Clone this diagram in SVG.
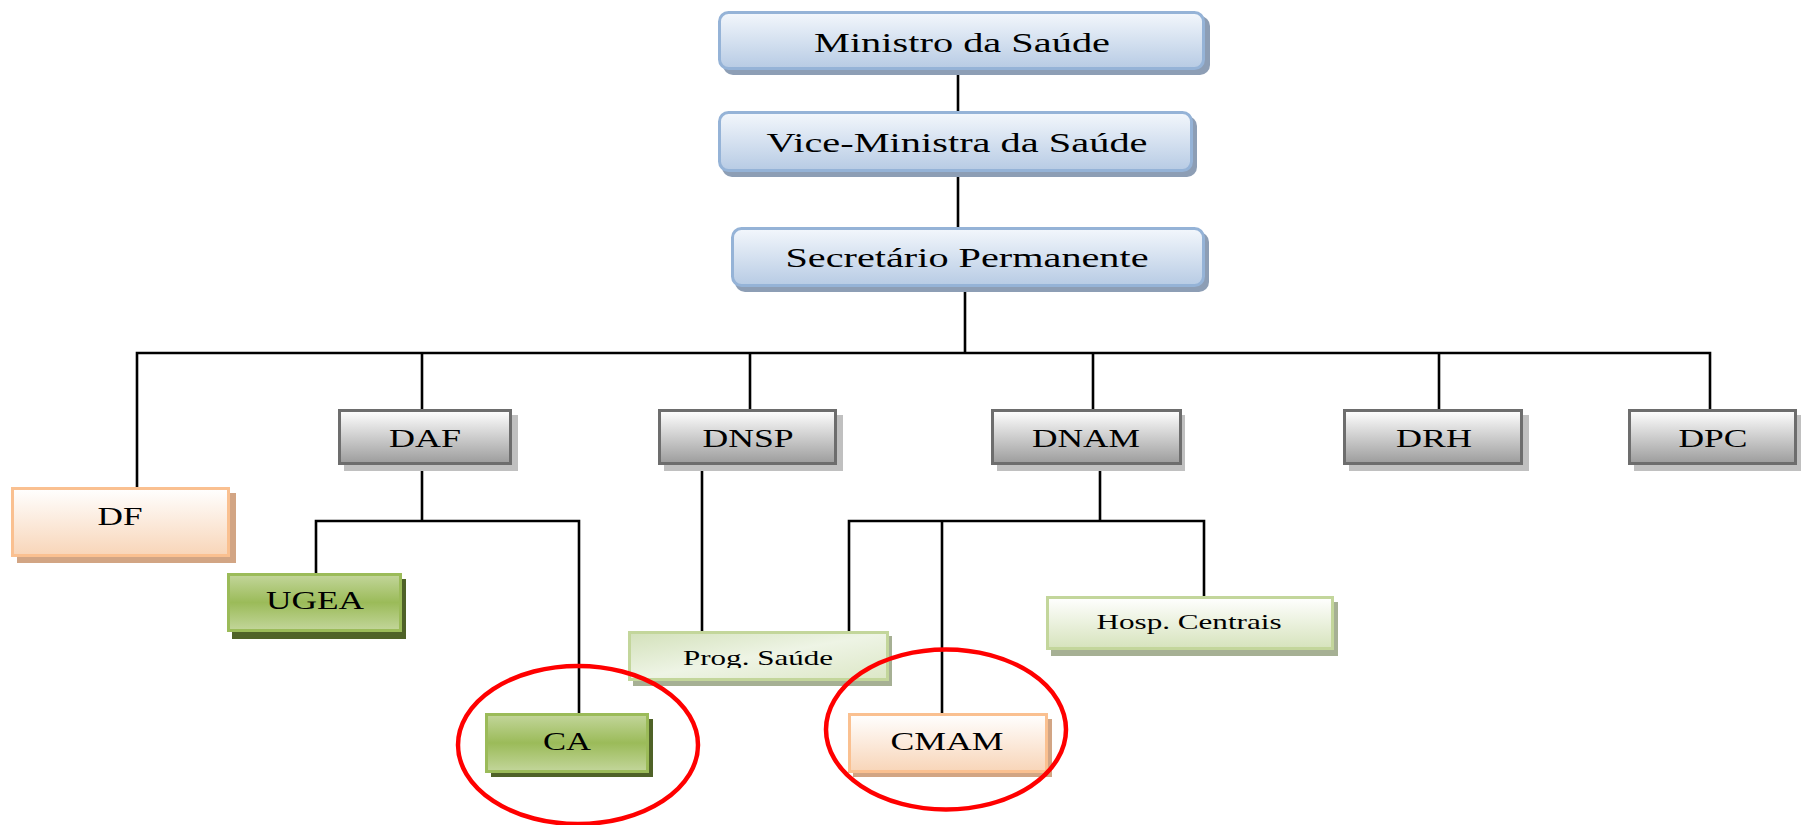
<svg xmlns="http://www.w3.org/2000/svg" width="1802" height="825" viewBox="0 0 1802 825">
<style>
.lbl{font-family:"Liberation Serif","Times New Roman",serif;fill:#000;text-anchor:middle}
.big{font-size:28px}
.mid{font-size:26px}
.sm{font-size:22px}
.conn{stroke:#000;stroke-width:2.6;fill:none}
.blue{fill:url(#gBlue);stroke:#95B3D7;stroke-width:3}
.gray{fill:url(#gGray);stroke:#6D6D6D;stroke-width:3}
.orange{fill:url(#gOrange);stroke:#FAC090;stroke-width:3}
.green{fill:url(#gGreen);stroke:#9BBB59;stroke-width:3}
.lgreen{fill:url(#gLGreen);stroke:#C3D69B;stroke-width:3}
.pgreen{fill:url(#gPGreen);stroke:#C3D69B;stroke-width:3}
.shBlue{fill:#8D9EB5}
.shGray{fill:#C0C0C0}
.shOrange{fill:#D2A584}
.shGreen{fill:#4F6228}
.shLGreen{fill:#A6B094}
.ring{fill:none;stroke:#FF0000;stroke-width:4.5}
</style>
<defs>
<linearGradient id="gBlue" x1="0" y1="0" x2="0" y2="1">
<stop offset="0" stop-color="#F3F7FC"/><stop offset="1" stop-color="#B7CBE4"/>
</linearGradient>
<linearGradient id="gGray" x1="0" y1="0" x2="0" y2="1">
<stop offset="0" stop-color="#FFFFFF"/><stop offset="1" stop-color="#9C9C9C"/>
</linearGradient>
<linearGradient id="gOrange" x1="0" y1="0" x2="0" y2="1">
<stop offset="0" stop-color="#FFFFFF"/><stop offset="1" stop-color="#F8D5B8"/>
</linearGradient>
<linearGradient id="gGreen" x1="0" y1="0" x2="0" y2="1">
<stop offset="0" stop-color="#C3D69B"/><stop offset="0.5" stop-color="#9BBB59"/><stop offset="1" stop-color="#C3D69B"/>
</linearGradient>
<linearGradient id="gLGreen" x1="0" y1="0" x2="0" y2="1">
<stop offset="0" stop-color="#FFFFFF"/><stop offset="1" stop-color="#D6E3BC"/>
</linearGradient>
<linearGradient id="gPGreen" x1="0" y1="0" x2="1" y2="1">
<stop offset="0" stop-color="#D3E1BA"/><stop offset="0.5" stop-color="#EEF4E5"/><stop offset="1" stop-color="#DCE7C6"/>
</linearGradient>
<clipPath id="clipProg"><rect x="620" y="620" width="280" height="48"/></clipPath>
</defs>

<g id="connectors">
<line class="conn" x1="958" y1="70" x2="958" y2="111"/>
<line class="conn" x1="958" y1="172" x2="958" y2="227"/>
<line class="conn" x1="965" y1="287" x2="965" y2="353"/>
<polyline class="conn" points="137,488 137,353 1710,353 1710,409"/>
<line class="conn" x1="422" y1="353" x2="422" y2="409"/>
<line class="conn" x1="750" y1="353" x2="750" y2="409"/>
<line class="conn" x1="1093" y1="353" x2="1093" y2="409"/>
<line class="conn" x1="1439" y1="353" x2="1439" y2="409"/>
<line class="conn" x1="422" y1="465" x2="422" y2="521"/>
<polyline class="conn" points="316,573 316,521 579,521 579,714"/>
<line class="conn" x1="702" y1="465" x2="702" y2="632"/>
<line class="conn" x1="1100" y1="465" x2="1100" y2="521"/>
<polyline class="conn" points="849,632 849,521 1204,521 1204,596"/>
<line class="conn" x1="942" y1="521" x2="942" y2="714"/>
</g>

<g id="ministro">
<rect class="shBlue" x="723" y="16" width="487" height="59" rx="10"/>
<rect class="blue" x="719.5" y="12.5" width="484" height="56" rx="9"/>
<text class="lbl big" x="962" y="52" textLength="296" lengthAdjust="spacingAndGlyphs">Ministro da Saúde</text>
</g>
<g id="vice-ministra">
<rect class="shBlue" x="722" y="116" width="475" height="61" rx="10"/>
<rect class="blue" x="719.5" y="112.5" width="472" height="58" rx="9"/>
<text class="lbl big" x="957" y="152" textLength="381" lengthAdjust="spacingAndGlyphs">Vice-Ministra da Saúde</text>
</g>
<g id="secretario">
<rect class="shBlue" x="735" y="232" width="474" height="60" rx="10"/>
<rect class="blue" x="732.5" y="228.5" width="471" height="57" rx="9"/>
<text class="lbl big" x="967" y="267" textLength="363" lengthAdjust="spacingAndGlyphs">Secretário Permanente</text>
</g>

<g id="df">
<rect class="shOrange" x="17" y="493" width="219" height="70"/>
<rect class="orange" x="12.5" y="488.5" width="216" height="67"/>
<text class="lbl mid" x="120" y="525" textLength="45" lengthAdjust="spacingAndGlyphs">DF</text>
</g>
<g id="daf">
<rect class="shGray" x="344" y="415" width="174" height="56"/>
<rect class="gray" x="339.5" y="410.5" width="171" height="53"/>
<text class="lbl mid" x="425" y="447" textLength="72" lengthAdjust="spacingAndGlyphs">DAF</text>
</g>
<g id="dnsp">
<rect class="shGray" x="664" y="415" width="179" height="56"/>
<rect class="gray" x="659.5" y="410.5" width="176" height="53"/>
<text class="lbl mid" x="748" y="447" textLength="91" lengthAdjust="spacingAndGlyphs">DNSP</text>
</g>
<g id="dnam">
<rect class="shGray" x="997" y="415" width="188" height="56"/>
<rect class="gray" x="992.5" y="410.5" width="188" height="53"/>
<text class="lbl mid" x="1086" y="447" textLength="108" lengthAdjust="spacingAndGlyphs">DNAM</text>
</g>
<g id="drh">
<rect class="shGray" x="1349" y="415" width="180" height="56"/>
<rect class="gray" x="1344.5" y="410.5" width="177" height="53"/>
<text class="lbl mid" x="1434" y="447" textLength="76" lengthAdjust="spacingAndGlyphs">DRH</text>
</g>
<g id="dpc">
<rect class="shGray" x="1634" y="415" width="167" height="56"/>
<rect class="gray" x="1629.5" y="410.5" width="166" height="53"/>
<text class="lbl mid" x="1713" y="447" textLength="69" lengthAdjust="spacingAndGlyphs">DPC</text>
</g>

<g id="ugea">
<rect class="shGreen" x="232" y="579" width="174" height="60"/>
<rect class="green" x="228.5" y="574.5" width="172" height="56"/>
<text class="lbl mid" x="315" y="609" textLength="98" lengthAdjust="spacingAndGlyphs">UGEA</text>
</g>
<g id="prog-saude">
<rect class="shLGreen" x="633" y="636" width="259" height="50"/>
<rect class="pgreen" x="629.5" y="632.5" width="258" height="47"/>
<text class="lbl sm" x="758" y="665" textLength="150" lengthAdjust="spacingAndGlyphs" clip-path="url(#clipProg)">Prog. Saúde</text>
</g>
<g id="hosp-centrais">
<rect class="shLGreen" x="1051" y="602" width="287" height="54"/>
<rect class="lgreen" x="1047.5" y="597.5" width="285" height="51"/>
<text class="lbl sm" x="1189" y="629" textLength="185" lengthAdjust="spacingAndGlyphs">Hosp. Centrais</text>
</g>
<g id="ca">
<rect class="shGreen" x="491" y="719" width="162" height="58"/>
<rect class="green" x="486.5" y="714.5" width="161" height="57"/>
<text class="lbl mid" x="567" y="750" textLength="48" lengthAdjust="spacingAndGlyphs">CA</text>
</g>
<g id="cmam">
<rect class="shOrange" x="853" y="719" width="199" height="58"/>
<rect class="orange" x="849.5" y="714.5" width="197" height="57"/>
<text class="lbl mid" x="947" y="750" textLength="113" lengthAdjust="spacingAndGlyphs">CMAM</text>
</g>

<g id="highlights">
<ellipse class="ring" cx="578" cy="745" rx="120" ry="79"/>
<ellipse class="ring" cx="946" cy="729.5" rx="120" ry="80"/>
</g>
</svg>
